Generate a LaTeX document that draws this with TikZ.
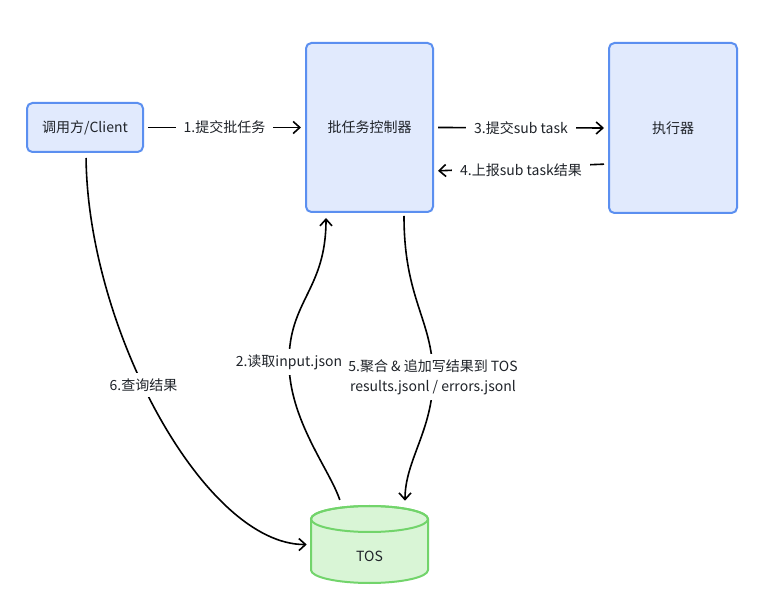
\documentclass[tikz,border=0pt]{standalone}
\usepackage{fontspec}
\setmainfont{Noto Sans CJK SC}
\usetikzlibrary{arrows.meta,calc}
\definecolor{boxfill}{HTML}{E1EAFD}
\definecolor{boxline}{HTML}{5B8FF0}
\definecolor{dbfill}{HTML}{D9F5D6}
\definecolor{dbline}{HTML}{72D46B}
\definecolor{txt}{HTML}{1F2329}
\begin{document}
\begin{tikzpicture}[x=0.75pt,y=-0.75pt,
  font=\fontsize{10.5pt}{15pt}\selectfont, text=txt,
  box/.style={draw=boxline, fill=boxfill, line width=1.5pt, rounded corners=4pt, inner sep=0pt, align=center},
  conn/.style={line width=1.2pt, -{Straight Barb[length=5pt,width=9pt]}, shorten <=3pt, shorten >=3pt},
  lbl/.style={fill=white, inner xsep=6pt, inner ysep=4pt, text=txt, align=center},
  dbshape/.style={draw=dbline, fill=dbfill, line width=1.5pt}]
\useasboundingbox (0,0) rectangle (768,598);
\fill[white] (0,0) rectangle (768,598);

% boxes
\node[box, minimum width=87pt, minimum height=36.75pt] (client) at (85,127.5) {调用方/Client};
\node[box, minimum width=95.25pt, minimum height=126.75pt] (ctrl) at (369.5,127.5) {批任务控制器};
\node[box, minimum width=96pt, minimum height=127.5pt] (exec) at (673,128) {执行器};

% TOS cylinder
\node[minimum width=87.75pt, minimum height=57.75pt, inner sep=0pt] (tos) at (369.5,544.5) {};
\path[dbshape] (311,519) -- (311,570)
  arc[start angle=180, end angle=360, x radius=43.875pt, y radius=9.75pt]
  -- (428,519)
  arc[start angle=0, end angle=180, x radius=43.875pt, y radius=9.75pt] -- cycle;
\draw[dbline, line width=1.5pt] (369.5,519) ellipse [x radius=43.875pt, y radius=9.75pt];
\node (tostext) at (369.5,556) {TOS};

% connectors
\draw[conn] (client.east) -- node[lbl] {1.提交批任务} (ctrl.west);
\draw[conn] (ctrl.east) -- node[lbl] {3.提交sub task} (exec.west);
\draw[conn] ($(exec.west)+(0,36)$) -- node[lbl, yshift=-2pt] {4.上报sub task结果} ($(ctrl.east)+(0,43.5)$);

\draw[conn] ($(ctrl.south)+(34.5,-1)$) .. controls (404,300) and (433,320) .. (433,377)
  node[lbl, inner xsep=3pt] {5.聚合 \& 追加写结果到 TOS\\results.jsonl / errors.jsonl}
  .. controls (433,430) and (405,460) .. ($(tos.north)+(35.5,-1)$);

\draw[conn] ($(tos.north)+(-28.5,-2)$) .. controls (330,470) and (289,420) .. (289,362)
  node[lbl, inner xsep=3pt] {2.读取input.json}
  .. controls (289,300) and (326,290) .. ($(ctrl.south)+(-43.5,1)$);

\draw[conn] ($(client.south)+(1,1)$) .. controls (88,330) and (205,545) .. (tos.west)
  node[lbl, pos=0.435] {6.查询结果};
\end{tikzpicture}
\end{document}
